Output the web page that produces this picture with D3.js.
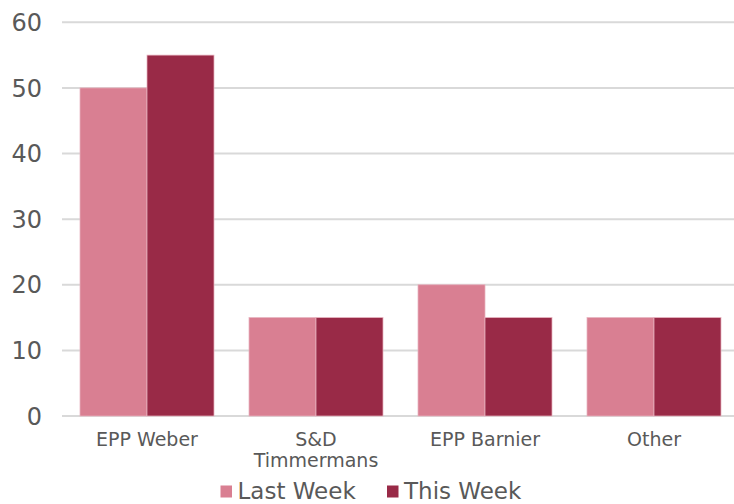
<!DOCTYPE html>
<html><head><meta charset="utf-8">
<script src="https://cdn.jsdelivr.net/npm/d3@7"></script>
<style>body{margin:0;background:#fff;} svg{display:block;font-family:"DejaVu Sans",sans-serif;}</style>
</head><body>
<svg id="c" width="734" height="504"></svg>
<script>
const categories = ["EPP Weber", "S&D\nTimmermans", "EPP Barnier", "Other"];
const seriesNames = ["Last Week", "This Week"];
const lastWeek = [50, 15, 20, 15];
const thisWeek = [55, 15, 15, 15];
const yTicks = [0, 10, 20, 30, 40, 50, 60];
const colors = ["#d97f92", "#992a47"];

const svg = d3.select("#c");
const x = d3.scaleBand().domain(categories).range([62.5, 738.5]).paddingInner(35/169).paddingOuter(17.5/169);
const x1 = d3.scaleBand().domain(seriesNames).range([0, x.bandwidth()]);
const y = d3.scaleLinear().domain([0, 60]).range([416, 22.3]);

// grid
svg.append("g").selectAll("line").data(yTicks).join("line")
  .attr("x1", 62).attr("x2", 734)
  .attr("y1", d => y(d)).attr("y2", d => y(d))
  .attr("stroke", "#d9d9d9").attr("stroke-width", 2);

// y labels
svg.append("g").selectAll("text").data(yTicks).join("text")
  .attr("x", 42).attr("y", d => y(d)).attr("dy", "0.36em")
  .attr("text-anchor", "end").attr("fill", "#595959").attr("font-size", 24)
  .text(d => d);

const data = categories.map((c, i) => ({c, vals: [lastWeek[i], thisWeek[i]]}));
const g = svg.append("g").selectAll("g").data(data).join("g")
  .attr("transform", d => `translate(${x(d.c)},0)`);
g.selectAll("rect").data(d => d.vals.map((v, j) => ({v, s: seriesNames[j], j})))
  .join("rect")
  .attr("x", d => x1(d.s)).attr("width", x1.bandwidth())
  .attr("y", d => y(d.v)).attr("height", d => y(0) - y(d.v))
  .attr("fill", d => colors[d.j]).attr("stroke", "#e8b3bf").attr("stroke-width", 0.75);

// x labels
const xl = svg.append("g").selectAll("text").data(categories).join("text")
  .attr("x", d => x(d) + x.bandwidth()/2).attr("y", 446)
  .attr("text-anchor", "middle").attr("fill", "#595959").attr("font-size", 19);
xl.each(function(d) {
  const lines = d.split("\n");
  d3.select(this).selectAll("tspan").data(lines).join("tspan")
    .attr("x", x(d) + x.bandwidth()/2).attr("dy", (l, i) => i ? 21 : 0).text(l => l);
});

// legend
const leg = [{n: seriesNames[0], sx: 220.5, tx: 237.5}, {n: seriesNames[1], sx: 387, tx: 404}];
leg.forEach((l, i) => {
  svg.append("rect").attr("x", l.sx).attr("y", 485.5).attr("width", 11.5).attr("height", 12).attr("fill", colors[i]);
  svg.append("text").attr("x", l.tx).attr("y", 498.5).attr("fill", "#595959").attr("font-size", 23).text(l.n);
});
</script>
</body></html>
